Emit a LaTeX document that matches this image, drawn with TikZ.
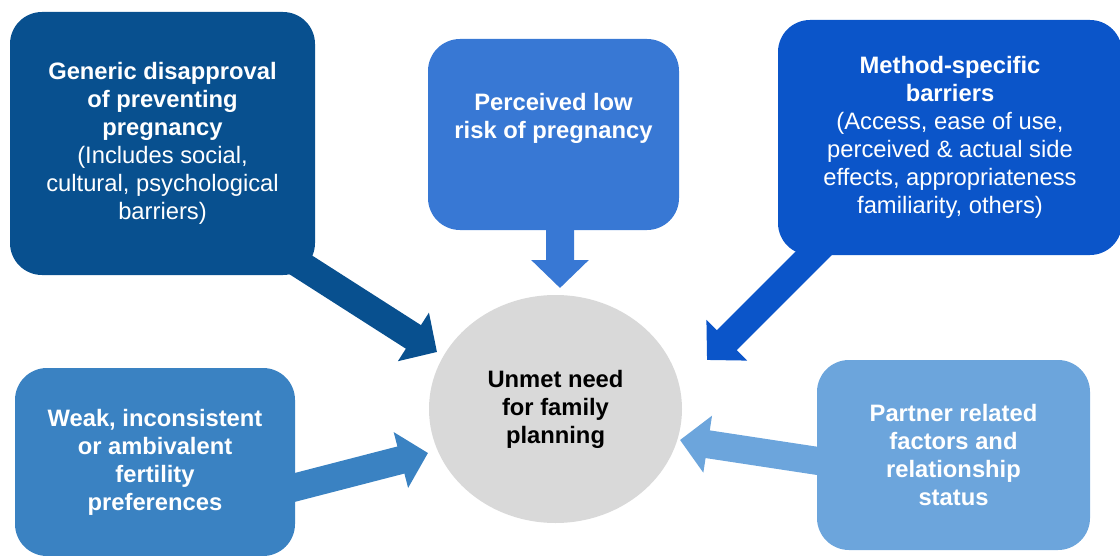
\documentclass[tikz,border=0pt]{standalone}
\usepackage{fontspec}
\setmainfont{Liberation Sans}
\usetikzlibrary{arrows.meta,calc,shapes.geometric}

\definecolor{genblue}{HTML}{08508F}
\definecolor{riskblue}{HTML}{3878D4}
\definecolor{methblue}{HTML}{0B55C9}
\definecolor{weakblue}{HTML}{3A82C2}
\definecolor{partblue}{HTML}{6CA5DC}
\definecolor{needgrey}{HTML}{D9D9D9}

\begin{document}
\begin{tikzpicture}[
  box/.style={rectangle, rounded corners=0.8cm, align=center, text=white,
    font=\fontsize{16.9}{19.9}\selectfont\bfseries},
  arrow/.style={line width=0.7cm, -{Triangle[length=0.7cm, width=1.4cm]}}
]
\useasboundingbox (0,0) rectangle (28,13.875);

% Boxes
\node[box, fill=genblue, minimum width=7.625cm, minimum height=6.575cm] (generic) at (4.0625,10.2875)
  {Generic disapproval\\of preventing\\pregnancy\\{\mdseries (Includes social,}\\{\mdseries cultural, psychological}\\{\mdseries barriers)}};
\node[box, fill=riskblue, minimum width=6.275cm, minimum height=4.775cm] (lowrisk) at (13.8375,10.5125)
  {Perceived low\\risk of pregnancy\\\strut};
\node[box, fill=methblue, minimum width=8.6cm, minimum height=5.875cm] (method) at (23.75,10.4375)
  {Method-specific\\barriers\\{\mdseries (Access, ease of use,}\\{\mdseries perceived \& actual side}\\{\mdseries effects, appropriateness}\\{\mdseries familiarity, others)}};
\node[box, fill=weakblue, minimum width=7cm, minimum height=4.7cm] (weak) at (3.875,2.325)
  {Weak, inconsistent\\or ambivalent\\fertility\\preferences};
\node[box, fill=partblue, minimum width=6.825cm, minimum height=4.75cm] (partner) at (23.8375,2.5)
  {Partner related\\factors and\\relationship\\status};
\node[ellipse, fill=needgrey, minimum width=6.325cm, minimum height=5.7cm, inner sep=0pt,
  align=center, font=\fontsize{16.9}{19.9}\selectfont\bfseries] (need) at (13.8875,3.65)
  {Unmet need\\for family\\planning};

% Arrow heads near the ellipse
\coordinate (genhead) at (10.925,5.075);
\coordinate (riskhead) at (14.0,6.675);
\coordinate (methhead) at (17.675,4.875);
\coordinate (weakhead) at (10.7,2.55);
\coordinate (parthead) at (17.0,2.875);

% Arrows
\draw[arrow, genblue] ($(generic.south east)+(-1.325,0.875)$) -- (genhead);
\draw[arrow, riskblue] ($(lowrisk.south)+(0.1625,0.75)$) -- (riskhead);
\draw[arrow, methblue] ($(method.south west)+(1.475,0.625)$) -- (methhead);
\draw[arrow, weakblue] ($(weak.east)+(-0.55,-0.775)$) -- (weakhead);
\draw[arrow, partblue] ($(partner.west)+(0.525,-0.225)$) -- (parthead);

\end{tikzpicture}
\end{document}
